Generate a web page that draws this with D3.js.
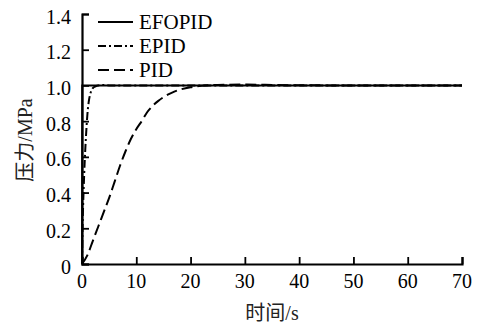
<!DOCTYPE html>
<html><head><meta charset="utf-8">
<script src="https://cdn.jsdelivr.net/npm/d3@7"></script>
<style>body{margin:0;background:#fff}svg{display:block}
text{font-family:"Liberation Serif","Tinos","Times New Roman","DejaVu Serif",serif;}
text.cjk{font-family:"Liberation Serif","Tinos","Times New Roman","Noto Sans CJK SC",serif;}
</style>
</head><body>
<svg id="c" width="480" height="323"></svg>
<script>
const xTicks = [0,10,20,30,40,50,60,70];
const yTicks = [0,0.2,0.4,0.6,0.8,1.0,1.2,1.4];
const yTickLabels = ["0","0.2","0.4","0.6","0.8","1.0","1.2","1.4"];
const seriesNames = ["EFOPID","EPID","PID"];
const efopidT = [0,0.05,70];
const efopidV = [0,1,1];
const epidT = [0,0.1,0.2,0.4,0.6,0.8,1.0,1.3,1.6,2.0,2.5,3.0,4.0,5.0,70];
const epidV = [0,0.2,0.32,0.5,0.64,0.75,0.84,0.92,0.96,0.985,0.995,1.0,1.002,1.0,1.0];
const pidT = [0,1,2,3,4,5,6,7,8,9,10,11,12,13,14,15,16,17,18,20,22,25,30,35,40,50,70];
const pidV = [0,0.05,0.13,0.21,0.29,0.37,0.46,0.55,0.63,0.70,0.755,0.80,0.85,0.885,0.912,0.934,0.951,0.965,0.976,0.99,0.998,1.003,1.005,1.003,1.001,1.0,1.0];

const svg = d3.select("#c");
const x = d3.scaleLinear().domain([0,70]).range([82,462]);
const y = d3.scaleLinear().domain([0,1.4]).range([264,14]);

const xAxis = svg.append("g").attr("transform","translate(0,264)")
  .call(d3.axisTop(x).tickValues(xTicks).tickSize(7).tickFormat(""));
const yAxis = svg.append("g").attr("transform","translate(82,0)")
  .call(d3.axisRight(y).tickValues(yTicks).tickSize(7).tickFormat(""));
[xAxis,yAxis].forEach(g=>{
  g.select(".domain").attr("stroke","#000").attr("stroke-width",2.2);
  g.selectAll(".tick line").attr("stroke","#000").attr("stroke-width",1.8);
});
svg.selectAll(".xl").data(xTicks).enter().append("text")
  .attr("x",d=>x(d)).attr("y",288).attr("text-anchor","middle")
  .attr("font-size",20).text(d=>d);
svg.selectAll(".yl").data(yTicks).enter().append("text")
  .attr("x",71).attr("y",d=>y(d)+9.5).attr("text-anchor","end")
  .attr("font-size",20).text((d,i)=>yTickLabels[i]);

svg.append("text").attr("class","cjk").attr("x",272).attr("y",320).attr("text-anchor","middle")
  .attr("font-size",20).attr("fill","#222")
  .text("时间/s");
svg.append("text").attr("class","cjk").attr("transform","translate(32,140) rotate(-90)").attr("text-anchor","middle")
  .attr("font-size",20).attr("fill","#222")
  .text("压力/MPa");

const line = d3.line().x(d=>x(d[0])).y(d=>y(d[1])).curve(d3.curveMonotoneX);
const styles = [
  {dash:null},
  {dash:"8,3,2,3"},
  {dash:"11,5"}
];
const data = [
  efopidT.map((t,i)=>[t,efopidV[i]]),
  epidT.map((t,i)=>[t,epidV[i]]),
  pidT.map((t,i)=>[t,pidV[i]])
];
data.forEach((d,i)=>{
  svg.append("path").datum(d).attr("d", i===0 ? d3.line().x(p=>x(p[0])).y(p=>y(p[1]))(d) : line(d))
    .attr("fill","none").attr("stroke","#000").attr("stroke-width",2)
    .attr("stroke-dasharray",styles[i].dash);
});
const legY = [22,46,70];
seriesNames.forEach((n,i)=>{
  svg.append("line").attr("x1",98).attr("x2",133).attr("y1",legY[i]).attr("y2",legY[i])
    .attr("stroke","#000").attr("stroke-width",2).attr("stroke-dasharray",styles[i].dash);
  svg.append("text").attr("x",139).attr("y",legY[i]+7)
    .attr("font-size",21).text(n);
});
</script>
</body></html>
